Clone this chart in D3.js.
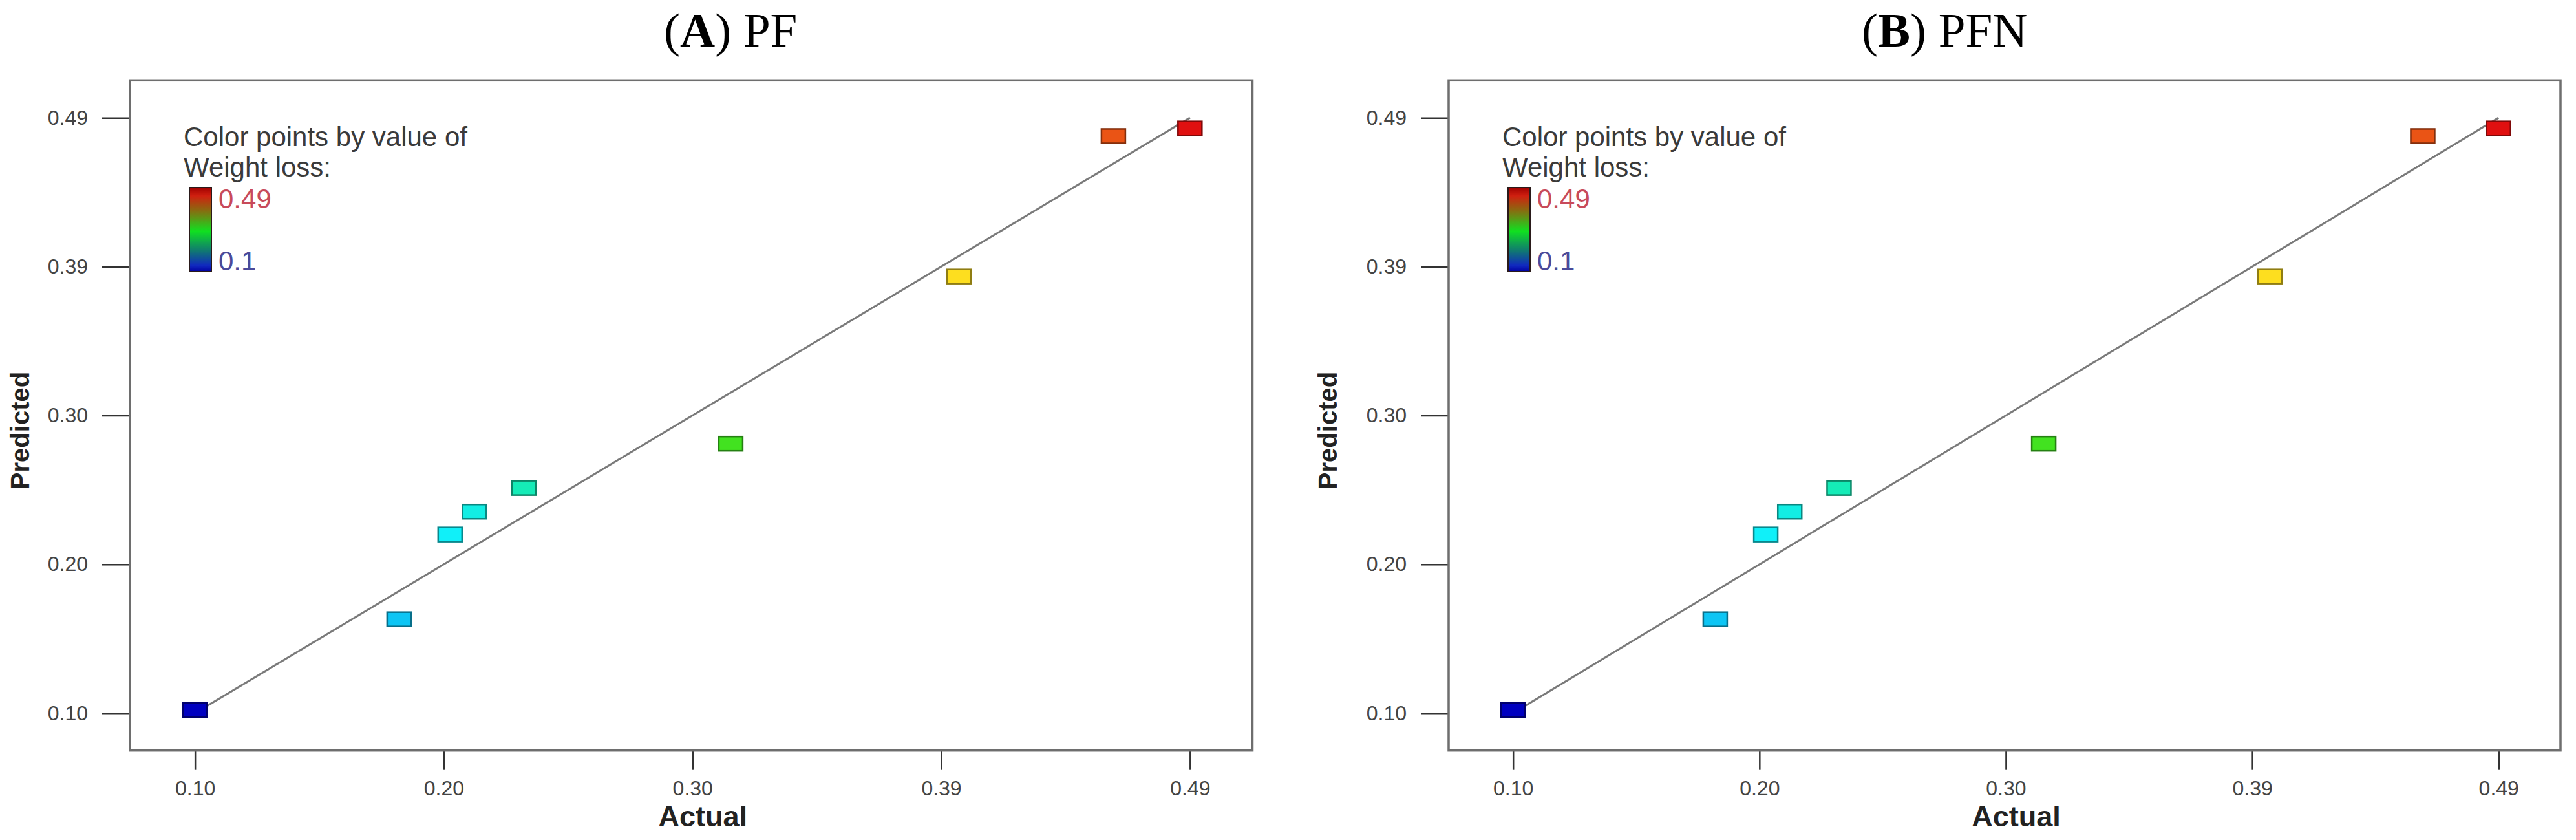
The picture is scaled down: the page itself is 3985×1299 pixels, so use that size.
<!DOCTYPE html>
<html>
<head>
<meta charset="utf-8">
<script src="https://cdn.jsdelivr.net/npm/d3@7"></script>
<style>
  body { margin: 0; background: #fff; }
  svg { display: block; }
  .tick text { font-family: "Liberation Sans", Arial, sans-serif; font-size: 32px; fill: #444; }
  .tick line { stroke: #333; stroke-width: 2.5; }
  .axisTitle { font-family: "Liberation Sans", Arial, sans-serif; font-weight: bold; fill: #222; }
  .legendText { font-family: "Liberation Sans", Arial, sans-serif; font-size: 42px; fill: #3a3a3a; }
  .panelTitle { font-family: "Liberation Serif", "Times New Roman", serif; font-size: 75px; fill: #000; }
</style>
</head>
<body>
<div id="chart"></div>
<script>
var WIDTH = 3985;
var HEIGHT = 1299;

// both panels show the same runs
var pfActual = [0.100, 0.180, 0.200, 0.2095, 0.229, 0.310, 0.3995, 0.460, 0.490];
var pfPredicted = [0.102, 0.1615, 0.217, 0.232, 0.2475, 0.2765, 0.386, 0.478, 0.483];
var pfnActual = [0.100, 0.180, 0.200, 0.2095, 0.229, 0.310, 0.3995, 0.460, 0.490];
var pfnPredicted = [0.102, 0.1615, 0.217, 0.232, 0.2475, 0.2765, 0.386, 0.478, 0.483];

// design-expert style ticks: 4 equal steps from min to max
var tickValues = [0.10, 0.1975, 0.295, 0.3925, 0.49];
var tickLabels = ["0.10", "0.20", "0.30", "0.39", "0.49"];

var fitLine = [0.10, 0.49];
var legendLow = "0.1";
var legendHigh = "0.49";

var colorDomain = [0.10, 0.1975, 0.295, 0.3925, 0.49];
var colorRange = ["#0000c0", "#10f0ff", "#20e020", "#ffee20", "#e01010"];

var panels = [
    { letter: "A", name: "PF", actual: pfActual, predicted: pfPredicted,
      left: 201, right: 1937.5, titleX: 1027, predX: 45 },
    { letter: "B", name: "PFN", actual: pfnActual, predicted: pfnPredicted,
      left: 2241, right: 3961, titleX: 2880, predX: 2068 }
];

var TOP = 124.3;
var BOTTOM = 1160.7;

var svg = d3.select("#chart")
    .append("svg")
    .attr("width", WIDTH)
    .attr("height", HEIGHT);

svg.append("rect")
    .attr("width", WIDTH)
    .attr("height", HEIGHT)
    .attr("fill", "#fff");

// colour bar gradient (rendered red -> green -> blue like the original)
var grad = svg.append("defs")
    .append("linearGradient")
    .attr("id", "cbar")
    .attr("x1", 0).attr("y1", 0)
    .attr("x2", 0).attr("y2", 1);

[[0, "#a00000"], [0.1, "#d02010"], [0.27, "#8a6a10"], [0.52, "#10e020"],
 [0.75, "#107a70"], [0.93, "#1028c0"], [1, "#0000a0"]].forEach(function(s) {
    grad.append("stop").attr("offset", s[0]).attr("stop-color", s[1]);
});

var colorScale = d3.scaleLinear()
    .domain(colorDomain)
    .range(colorRange);

panels.forEach(function(p) {
    var g = svg.append("g");

    var xScale = d3.scaleLinear()
        .domain([0.0745, 0.5145])
        .range([p.left, p.right]);

    var yScale = d3.scaleLinear()
        .domain([0.0755, 0.5145])
        .range([BOTTOM, TOP]);

    // title
    var title = g.append("text")
        .attr("class", "panelTitle")
        .attr("x", p.titleX)
        .attr("y", 72);
    title.append("tspan").text("(");
    title.append("tspan").attr("font-weight", "bold").text(p.letter);
    title.append("tspan").text(") " + p.name);

    // axes
    g.append("g")
        .attr("transform", "translate(0," + BOTTOM + ")")
        .call(d3.axisBottom(xScale)
            .tickValues(tickValues)
            .tickFormat(function(d, i) { return tickLabels[i]; })
            .tickSize(29)
            .tickPadding(18))
        .call(function(a) { a.select(".domain").remove(); });

    g.append("g")
        .attr("transform", "translate(" + p.left + ",0)")
        .call(d3.axisLeft(yScale)
            .tickValues(tickValues)
            .tickFormat(function(d, i) { return tickLabels[i]; })
            .tickSize(43)
            .tickPadding(22))
        .call(function(a) { a.select(".domain").remove(); });

    // frame
    g.append("rect")
        .attr("x", p.left)
        .attr("y", TOP)
        .attr("width", p.right - p.left)
        .attr("height", BOTTOM - TOP)
        .attr("fill", "none")
        .attr("stroke", "#6e6e6e")
        .attr("stroke-width", 3.5);

    // axis titles
    g.append("text")
        .attr("class", "axisTitle")
        .attr("x", (p.left + p.right) / 2 + 18)
        .attr("y", 1278)
        .attr("text-anchor", "middle")
        .attr("font-size", 45)
        .text("Actual");

    g.append("text")
        .attr("class", "axisTitle")
        .attr("transform", "translate(" + p.predX + ",666) rotate(-90)")
        .attr("text-anchor", "middle")
        .attr("font-size", 40)
        .text("Predicted");

    // legend
    g.append("text")
        .attr("class", "legendText")
        .attr("x", p.left + 83)
        .attr("y", 226)
        .text("Color points by value of");
    g.append("text")
        .attr("class", "legendText")
        .attr("x", p.left + 83)
        .attr("y", 273)
        .text("Weight loss:");

    g.append("rect")
        .attr("x", p.left + 92)
        .attr("y", 290)
        .attr("width", 34)
        .attr("height", 130)
        .attr("fill", "url(#cbar)")
        .attr("stroke", "#2a1a1a")
        .attr("stroke-width", 2);

    g.append("text")
        .attr("class", "legendText")
        .attr("x", p.left + 137)
        .attr("y", 322)
        .attr("font-size", 40)
        .style("fill", "#c84a5a")
        .text(legendHigh);
    g.append("text")
        .attr("class", "legendText")
        .attr("x", p.left + 137)
        .attr("y", 418)
        .attr("font-size", 40)
        .style("fill", "#4a4a9a")
        .text(legendLow);

    // 1:1 line
    g.append("line")
        .attr("x1", xScale(fitLine[0]))
        .attr("y1", yScale(fitLine[0]))
        .attr("x2", xScale(fitLine[1]))
        .attr("y2", yScale(fitLine[1]))
        .attr("stroke", "#7a7a7a")
        .attr("stroke-width", 3);

    // points
    var pts = p.actual.map(function(a, i) { return { actual: a, predicted: p.predicted[i] }; });
    var mw = 37, mh = 22;
    g.selectAll(".pt")
        .data(pts)
        .enter()
        .append("rect")
        .attr("class", "pt")
        .attr("x", function(d) { return xScale(d.actual) - mw / 2; })
        .attr("y", function(d) { return yScale(d.predicted) - mh / 2; })
        .attr("width", mw)
        .attr("height", mh)
        .attr("fill", function(d) { return colorScale(d.actual); })
        .attr("stroke", function(d) { return d3.color(colorScale(d.actual)).darker(1.6); })
        .attr("stroke-width", 2.5);
});
</script>
</body>
</html>
